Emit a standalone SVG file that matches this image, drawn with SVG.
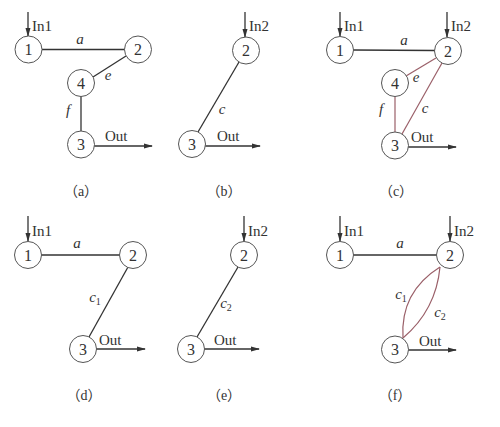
<svg xmlns="http://www.w3.org/2000/svg" width="500" height="427" viewBox="0 0 500 427">
<defs>
<marker id="ah" markerUnits="userSpaceOnUse" markerWidth="9" markerHeight="6" refX="8" refY="3" orient="auto">
<path d="M0,0.5 L9,3 L0,5.5 z" fill="#333"/>
</marker>
<style>
.n circle{fill:#fff;stroke:#555;stroke-width:1}
.n text{font-family:"Liberation Serif",serif;font-size:16px;fill:#333;text-anchor:middle}
.e{stroke:#333;stroke-width:1.3;fill:none}
.r{stroke:#9a5f68;stroke-width:1.2;fill:none}
.io{stroke:#333;stroke-width:1.3;fill:none;marker-end:url(#ah)}
.t{font-family:"Liberation Serif",serif;font-size:15px;fill:#333}
.l{font-family:"Liberation Serif",serif;font-size:15px;font-style:italic;fill:#333;text-anchor:middle}
.s{font-size:10px;font-style:normal}
.cap{font-family:"Liberation Serif","Noto Sans CJK SC",serif;font-size:14px;fill:#333;text-anchor:middle}
</style>
</defs>
<g id="connectors">
<!-- (a) -->
<line class="e" x1="42" y1="49.5" x2="125" y2="49.5"/>
<line class="e" x1="126" y1="56" x2="93" y2="77"/>
<line class="e" x1="81" y1="96" x2="81" y2="131"/>
<line class="io" x1="94" y1="146" x2="152" y2="146"/>
<line class="io" x1="28" y1="12" x2="28" y2="36"/>
<!-- (b) -->
<line class="e" x1="239" y1="62" x2="198" y2="132"/>
<line class="io" x1="205" y1="146" x2="260" y2="146"/>
<line class="io" x1="245" y1="12" x2="245" y2="37"/>
<!-- (c) -->
<line class="e" x1="353" y1="50" x2="435" y2="50.5"/>
<line class="r" x1="436" y1="58" x2="406" y2="76"/>
<line class="r" x1="395" y1="96" x2="395" y2="132"/>
<line class="r" x1="442" y1="63" x2="402" y2="134"/>
<line class="io" x1="408" y1="147" x2="456" y2="147"/>
<line class="io" x1="340" y1="12" x2="340" y2="36"/>
<line class="io" x1="447" y1="12" x2="447" y2="37"/>
<!-- (d) -->
<line class="e" x1="41" y1="255" x2="120" y2="255"/>
<line class="e" x1="128" y1="267" x2="89" y2="337"/>
<line class="io" x1="96" y1="349" x2="145" y2="349"/>
<line class="io" x1="28" y1="216" x2="28" y2="241"/>
<!-- (e) -->
<line class="e" x1="238" y1="267" x2="197" y2="337"/>
<line class="io" x1="204" y1="349" x2="259" y2="349"/>
<line class="io" x1="244" y1="216" x2="244" y2="241"/>
<!-- (f) -->
<line class="e" x1="353" y1="255" x2="437" y2="255"/>
<path class="r" d="M440,267 Q400,292 403,338"/>
<path class="r" d="M440,267 Q436,310 403,338"/>
<line class="io" x1="408" y1="350" x2="456" y2="350"/>
<line class="io" x1="340" y1="216" x2="340" y2="241"/>
<line class="io" x1="450" y1="216" x2="450" y2="241"/>
</g>
<!-- (a) nodes -->
<g id="a1" class="n"><circle cx="28.5" cy="49.5" r="13.5"/><text x="28.5" y="55">1</text></g>
<g id="a2" class="n"><circle cx="138" cy="49.5" r="13.5"/><text x="138" y="55">2</text></g>
<g id="a4" class="n"><circle cx="81" cy="83" r="13.5"/><text x="81" y="88.5">4</text></g>
<g id="a3" class="n"><circle cx="81" cy="144.5" r="13.5"/><text x="81" y="150">3</text></g>
<!-- (b) nodes -->
<g id="b2" class="n"><circle cx="246" cy="50.5" r="13.5"/><text x="246" y="56">2</text></g>
<g id="b3" class="n"><circle cx="192" cy="144" r="13.5"/><text x="192" y="149.5">3</text></g>
<!-- (c) nodes -->
<g id="c1" class="n"><circle cx="340" cy="50" r="13.5"/><text x="340" y="55.5">1</text></g>
<g id="c2" class="n"><circle cx="448" cy="51" r="13.5"/><text x="448" y="56.5">2</text></g>
<g id="c4" class="n"><circle cx="395" cy="83" r="13.5"/><text x="395" y="88.5">4</text></g>
<g id="c3" class="n"><circle cx="395" cy="145.5" r="13.5"/><text x="395" y="151">3</text></g>
<!-- (d) nodes -->
<g id="d1" class="n"><circle cx="28" cy="255" r="13.5"/><text x="28" y="260.5">1</text></g>
<g id="d2" class="n"><circle cx="133" cy="255" r="13.5"/><text x="133" y="260.5">2</text></g>
<g id="d3" class="n"><circle cx="83" cy="349" r="13.5"/><text x="83" y="354.5">3</text></g>
<!-- (e) nodes -->
<g id="e2" class="n"><circle cx="244" cy="255" r="13.5"/><text x="244" y="260.5">2</text></g>
<g id="e3" class="n"><circle cx="191" cy="349" r="13.5"/><text x="191" y="354.5">3</text></g>
<!-- (f) nodes -->
<g id="f1" class="n"><circle cx="340" cy="255" r="13.5"/><text x="340" y="260.5">1</text></g>
<g id="f2" class="n"><circle cx="450" cy="255" r="13.5"/><text x="450" y="260.5">2</text></g>
<g id="f3" class="n"><circle cx="395" cy="349.5" r="13.5"/><text x="395" y="355">3</text></g>
<g id="labels">
<!-- (a) -->
<text class="t" x="32" y="31">In1</text>
<text class="t" x="105" y="141">Out</text>
<text class="l" x="80" y="44">a</text>
<text class="l" x="108" y="80">e</text>
<text class="l" x="68" y="115">f</text>
<text class="cap" x="81" y="196">（a）</text>
<!-- (b) -->
<text class="t" x="249" y="31">In2</text>
<text class="t" x="217" y="141">Out</text>
<text class="l" x="222" y="114">c</text>
<text class="cap" x="224" y="196">（b）</text>
<!-- (c) -->
<text class="t" x="344" y="31">In1</text>
<text class="t" x="451" y="31">In2</text>
<text class="t" x="411" y="142">Out</text>
<text class="l" x="404" y="45">a</text>
<text class="l" x="416" y="82">e</text>
<text class="l" x="381" y="114">f</text>
<text class="l" x="425" y="113">c</text>
<text class="cap" x="396" y="196">（c）</text>
<!-- (d) -->
<text class="t" x="32" y="236">In1</text>
<text class="t" x="99" y="345">Out</text>
<text class="l" x="77" y="248">a</text>
<text class="l" x="95" y="302">c<tspan class="s" dy="3">1</tspan></text>
<text class="cap" x="84" y="400">（d）</text>
<!-- (e) -->
<text class="t" x="248" y="236">In2</text>
<text class="t" x="214" y="345">Out</text>
<text class="l" x="226" y="308">c<tspan class="s" dy="3">2</tspan></text>
<text class="cap" x="224" y="400">（e）</text>
<!-- (f) -->
<text class="t" x="344" y="236">In1</text>
<text class="t" x="454" y="236">In2</text>
<text class="t" x="419" y="346">Out</text>
<text class="l" x="400" y="248">a</text>
<text class="l" x="401" y="299">c<tspan class="s" dy="3">1</tspan></text>
<text class="l" x="440" y="317">c<tspan class="s" dy="3">2</tspan></text>
<text class="cap" x="395" y="400">（f）</text>
</g>
</svg>
